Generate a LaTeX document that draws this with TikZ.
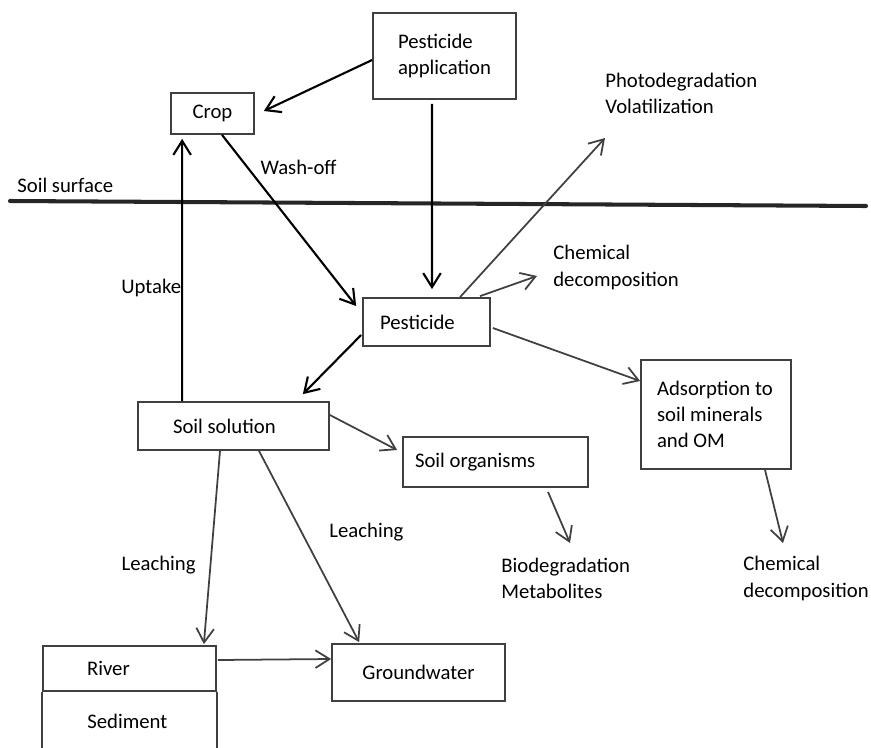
\documentclass[tikz,border=0pt]{standalone}
\usepackage{fontspec}
\setmainfont{Carlito}
\usetikzlibrary{arrows.meta}
\definecolor{linegray}{gray}{0.25}

\begin{document}
\begin{tikzpicture}[x=0.02cm,y=-0.02cm,>={Straight Barb[length=8pt,width=10pt]},
        font=\fontsize{11.8}{15}\selectfont]
        \tikzstyle{box}=[draw=linegray,line width=1pt,inner sep=0pt,align=flush left]
        \tikzstyle{txt}=[inner sep=0pt,align=flush left,text=black]
        \tikzstyle{flow}=[->,black,line width=1.2pt]
        \tikzstyle{link}=[->,linegray,line width=1pt]

        \useasboundingbox (0,0) rectangle (871,747);

        % soil surface
        \coordinate (sl) at (10,201);
        \coordinate (sr) at (866,206);
        \draw[line width=2.3pt,line cap=round,black!85] (sl) -- (sr);
        \node[txt,anchor=west] (surf) at (17,185) {Soil surface};

        % boxes
        \node[box,minimum width=2.86cm,minimum height=1.72cm,align=left] (app) at (444.5,56) {Pesticide\\application};
        \node[box,minimum width=1.66cm,minimum height=0.82cm] (crop) at (212.5,113.5) {Crop};
        \node[box,minimum height=0.96cm,text width=1.86cm,inner xsep=0.34cm] (pest) at (426.5,322) {Pesticide};
        \node[box,minimum height=0.96cm,text width=2.42cm,inner xsep=0.7cm] (sol) at (233.5,426) {Soil solution};
        \node[box,minimum height=1cm,text width=3.22cm,inner xsep=0.24cm] (org) at (495.5,462) {Soil organisms};
        \node[box,minimum height=2.18cm,text width=2.36cm,inner xsep=0.32cm] (ads) at (716,414.5) {Adsorption~to\\soil~minerals\\and~OM};
        \node[box,minimum width=3.46cm,minimum height=1.14cm] (gw) at (418.5,672.5) {Groundwater};
        \node[box,minimum height=0.9cm,text width=1.7cm,inner xsep=0.88cm] (river) at (129.5,668.5) {River};
        \node[txt,anchor=west] (sed) at (87,721) {Sediment};
        \draw[linegray,line width=1pt] (river.south west) -- ++(0,60)
                                       (river.south east) -- ++(0,60);

        % free texts
        \node[txt,anchor=west] (photo) at (605,93.5)  {Photodegradation\\Volatilization};
        \node[txt,anchor=west] (chem1) at (553,267.5) {Chemical\\decomposition};
        \node[txt,anchor=west] (bio)   at (501,578.5) {Biodegradation\\Metabolites};
        \node[txt,anchor=west] (chem2) at (743,578.5) {Chemical\\decomposition};

        \path[flow]
                  ([shift={(0,4)}]app.west)        edge ([shift={(9,-2.5)}]crop.east)
                  ([shift={(9.5,0)}]crop.south)    edge node [txt,pos=0.19,anchor=west,xshift=0.24cm] {Wash-off}
                                                        ([shift={(-6,-16)}]pest.west)
                  ([shift={(-12.5,4)}]app.south)   edge ([shift={(5.5,-8)}]pest.north)
                  ([shift={(45,0)}]sol.north west) edge node [txt,pos=0.43,anchor=east] {Uptake}
                                                        ([shift={(12,4)}]crop.south west)
                  ([shift={(-1,13)}]pest.west)     edge ([shift={(-27,-7)}]sol.north east);

        \path[link]
                  ([shift={(33.5,0)}]pest.north)   edge ([shift={(0,44.5)}]photo.west)
                  ([shift={(53.5,-1)}]pest.north)  edge ([shift={(-16,8.5)}]chem1.west)
                  ([shift={(2,6)}]pest.east)       edge ([shift={(0,-33.5)}]ads.west)
                  ([shift={(0,-11)}]sol.east)      edge ([shift={(-5,-12)}]org.west)
                  ([shift={(52.5,4)}]org.south)    edge ([shift={(69,-35.5)}]bio.west)
                  ([shift={(49,0)}]ads.south)      edge ([shift={(40,-35.5)}]chem2.west)
                  ([shift={(-13.5,0)}]sol.south)   edge node [txt,pos=0.59,anchor=east,xshift=-0.28cm] {Leaching}
                                                        ([shift={(-13,-1)}]river.north east)
                  ([shift={(25.5,0)}]sol.south)    edge node [txt,pos=0.425,anchor=west,xshift=0.54cm] {Leaching}
                                                        ([shift={(28,-1)}]gw.north west)
                  ([shift={(1,-8.5)}]river.east)   edge ([shift={(0,-13.5)}]gw.west);
\end{tikzpicture}
\end{document}
